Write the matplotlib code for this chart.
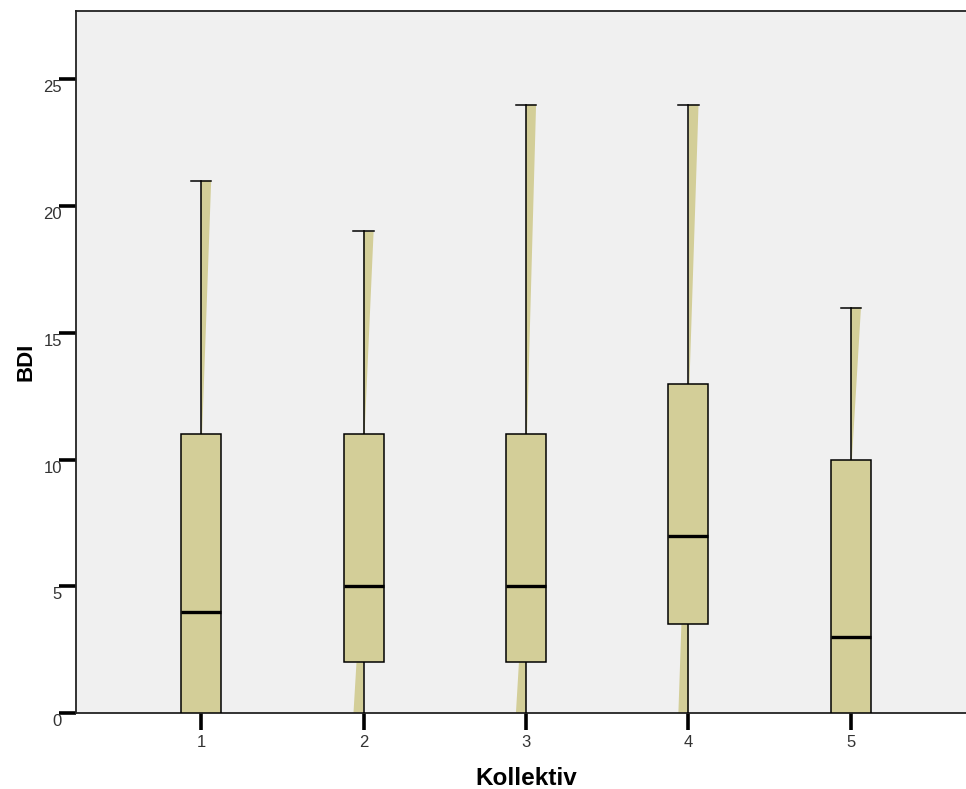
import matplotlib
matplotlib.use("Agg")
import matplotlib.pyplot as plt
import matplotlib.transforms as mtrans
from matplotlib.patches import Polygon, Rectangle

plt.rcParams['font.family'] = ['Liberation Sans', 'DejaVu Sans']

categories = [1, 2, 3, 4, 5]
whisker_low = [0, 0, 0, 0, 0]
q1 = [0, 2, 2, 3.5, 0]
median = [4, 5, 5, 7, 3]
q3 = [11, 11, 11, 13, 10]
whisker_high = [21, 19, 24, 24, 16]
yticks = [0, 5, 10, 15, 20, 25]

box_color = '#D3CE98'
bg_color = '#F0F0F0'

fig = plt.figure(figsize=(9.66, 7.89), dpi=100)
ax = fig.add_axes([76/966, 76/789, 900/966, 702/789])
ax.set_facecolor(bg_color)

bw = 0.246
cw = 0.062
for c, lo, a, m, b, hi in zip(categories, whisker_low, q1, median, q3, whisker_high):
    # shading artifacts along whiskers
    ax.add_patch(Polygon([(c, hi), (c + cw, hi), (c + 0.006, b), (c, b)],
                         closed=True, facecolor=box_color, edgecolor='none', zorder=2))
    if a > lo:
        ax.add_patch(Polygon([(c, a), (c - cw * 0.7, a), (c - cw, lo), (c, lo)],
                             closed=True, facecolor=box_color, edgecolor='none', zorder=2))
    # whiskers
    ax.plot([c, c], [b, hi], color='black', lw=1.1, zorder=3)
    ax.plot([c, c], [lo, a], color='black', lw=1.1, zorder=3)
    ax.plot([c - cw, c + cw], [hi, hi], color='black', lw=1.1, zorder=3)
    # box
    ax.add_patch(Rectangle((c - bw / 2, a), bw, b - a, facecolor=box_color,
                           edgecolor='black', lw=1.1, zorder=4))
    ax.plot([c - bw / 2, c + bw / 2], [m, m], color='black', lw=2.4, zorder=5,
            solid_capstyle='butt')

ax.set_xlim(0.23, 5.77)
ax.set_ylim(0, 27.7)
ax.set_xticks(categories)
ax.set_xticklabels([str(c) for c in categories])
ax.set_yticks(yticks)
ax.set_yticklabels([str(t) for t in yticks])

ax.tick_params(axis='both', direction='out', length=12, width=2.6, color='black',
               labelsize=12, labelcolor='#333333')
ax.tick_params(axis='y', pad=-2)
ax.tick_params(axis='x', pad=4)

shift = mtrans.ScaledTranslation(0, -0.01, fig.dpi_scale_trans)
for lab in ax.get_yticklabels():
    lab.set_verticalalignment('top')
    lab.set_transform(lab.get_transform() + shift)

for s in ['top', 'left', 'bottom']:
    ax.spines[s].set_color('#222222')
    ax.spines[s].set_linewidth(1.3)
ax.spines['right'].set_visible(False)

ax.set_xlabel('Kollektiv', fontsize=17.5, fontweight='bold', labelpad=12)
ax.set_ylabel('BDI', fontsize=16, fontweight='bold', labelpad=5)

fig.savefig('out.png', dpi=100, facecolor='white')
